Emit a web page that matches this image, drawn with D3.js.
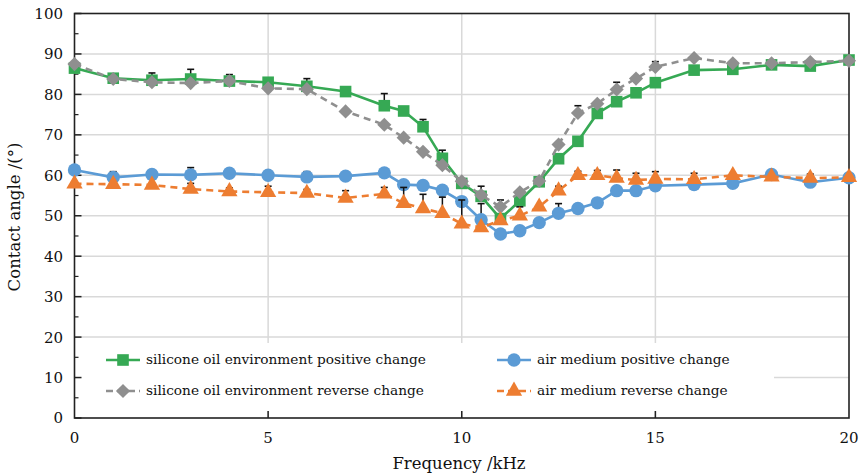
<!DOCTYPE html>
<html>
<head>
<meta charset="utf-8">
<script src="https://cdn.jsdelivr.net/npm/d3@7"></script>
<style>
  html, body { margin: 0; padding: 0; background: #fff; }
  svg { display: block; font-family: "DejaVu Serif", serif; }
</style>
</head>
<body>
<div id="chart"></div>
<script>
// Angle de contact en fonction de la fréquence, 4 séries avec barres d'erreur (haut)
const freq = [0, 1, 2, 3, 4, 5, 6, 7, 8, 8.5, 9, 9.5, 10, 10.5, 11, 11.5, 12, 12.5, 13, 13.5, 14, 14.5, 15, 16, 17, 18, 19, 20]

const oilPositive = [86.5, 84, 83.5, 83.8, 83.3, 83, 82, 80.7, 77.2, 75.9, 72, 64.2, 58, 54.8, 49.3, 53.7, 58.4, 64.1, 68.4, 75.3, 78.2, 80.4, 82.9, 86, 86.2, 87.3, 87, 88.5]
const oilReverse = [87.5, 83.8, 83, 82.8, 83.3, 81.5, 81.3, 75.8, 72.5, 69.3, 65.8, 62.5, 58.5, 55.1, 52.2, 55.8, 58.6, 67.6, 75.4, 77.7, 81.2, 83.9, 86.8, 89, 87.7, 87.7, 88, 88.3]
const airPositive = [61.3, 59.5, 60.2, 60.1, 60.5, 60, 59.6, 59.8, 60.6, 57.7, 57.5, 56.3, 53.5, 49, 45.5, 46.3, 48.3, 50.6, 51.8, 53.2, 56.2, 56.2, 57.4, 57.7, 58, 60.2, 58.3, 59.4]
const airReverse = [57.9, 57.8, 57.6, 56.6, 56, 55.8, 55.6, 54.4, 55.4, 53.1, 51.8, 50.6, 48, 47.1, 48.8, 50, 52.2, 56.2, 60, 60, 59.3, 58.8, 59.1, 59, 60, 59.6, 59.3, 59.5]

const oilPositiveErr = [0, 0, 1.8, 2.4, 1.6, 1.1, 1.9, 0, 3, 0, 1.8, 2, 0, 2.5, 0, 0, 0, 0, 0, 0, 0, 0, 0, 0, 0, 0, 0, 0]
const oilReverseErr = [0, 0, 0, 0, 0, 0, 0, 0, 0, 0, 0, 0, 0, 0, 1.7, 0, 0, 0, 1.8, 0, 1.8, 0, 1.3, 0, 0, 0, 0, 0]
const airPositiveErr = [0, 1.4, 0, 1.8, 0, 0, 1.3, 0, 0, 0, 0, 0, 0, 4, 0, 0, 0, 2.4, 0, 0, 0, 0, 0, 0, 0, 0, 0, 0]
const airReverseErr = [0, 0, 0, 1.4, 0.9, 1.5, 0.9, 1.8, 1.6, 3.9, 3.5, 4, 5.9, 0, 0, 2.2, 0, 1.1, 1, 1.2, 2, 1.7, 1.8, 1.5, 0, 0, 1, 0]

const seriesNames = [
  "silicone oil environment positive change",
  "silicone oil environment reverse change",
  "air medium positive change",
  "air medium reverse change",
]

const xTicks = [0, 5, 10, 15, 20]
const yTicks = [0, 10, 20, 30, 40, 50, 60, 70, 80, 90, 100]

const series = [
  { name: seriesNames[0], values: oilPositive, err: oilPositiveErr, color: "#36a954", dash: null, symbol: d3.symbolSquare, size: 135, rotate: 0 },
  { name: seriesNames[1], values: oilReverse, err: oilReverseErr, color: "#8f8f8f", dash: "7,5", symbol: d3.symbolSquare, size: 100, rotate: 45 },
  { name: seriesNames[2], values: airPositive, err: airPositiveErr, color: "#5b9bd5", dash: null, symbol: d3.symbolCircle, size: 140, rotate: 0 },
  { name: seriesNames[3], values: airReverse, err: airReverseErr, color: "#ed7d31", dash: "7,5", symbol: d3.symbolTriangle, size: 115, rotate: 0 },
]

const W = 863, H = 476
const plot = { left: 74.5, right: 849, top: 13.5, bottom: 418 }

const svg = d3.select("#chart").append("svg")
  .attr("width", W).attr("height", H)
  .attr("viewBox", `0 0 ${W} ${H}`)

const x = d3.scaleLinear().domain([0, 20]).range([plot.left, plot.right])
const y = d3.scaleLinear().domain([0, 100]).range([plot.bottom, plot.top])

// Grille
svg.append("g")
  .selectAll("line")
  .data(yTicks.filter((d) => d > 0 && d < 100))
  .join("line")
  .attr("x1", plot.left).attr("x2", plot.right)
  .attr("y1", (d) => y(d)).attr("y2", (d) => y(d))
  .attr("stroke", "#d9d9d9").attr("stroke-width", 1.5)

svg.append("g")
  .selectAll("line")
  .data(xTicks.filter((d) => d > 0 && d < 20))
  .join("line")
  .attr("x1", (d) => x(d)).attr("x2", (d) => x(d))
  .attr("y1", plot.top).attr("y2", plot.bottom)
  .attr("stroke", "#d9d9d9").attr("stroke-width", 1.5)

// Fond blanc de la légende (cache la grille)
svg.append("rect")
  .attr("x", plot.left + 1).attr("y", 343)
  .attr("width", 773 - plot.left).attr("height", 68)
  .attr("fill", "#fff")

// Cadre
svg.append("rect")
  .attr("x", plot.left).attr("y", plot.top)
  .attr("width", plot.right - plot.left).attr("height", plot.bottom - plot.top)
  .attr("fill", "none").attr("stroke", "#222").attr("stroke-width", 1.6)

// Ticks internes
const yMinor = d3.range(5, 100, 10)
svg.append("g").selectAll("line")
  .data(yTicks)
  .join("line")
  .attr("x1", plot.left).attr("x2", plot.left + 7)
  .attr("y1", (d) => y(d)).attr("y2", (d) => y(d))
  .attr("stroke", "#222").attr("stroke-width", 1.5)
svg.append("g").selectAll("line")
  .data(yMinor)
  .join("line")
  .attr("x1", plot.left).attr("x2", plot.left + 4)
  .attr("y1", (d) => y(d)).attr("y2", (d) => y(d))
  .attr("stroke", "#222").attr("stroke-width", 1.2)
svg.append("g").selectAll("line")
  .data(xTicks.filter((d) => d > 0 && d < 20))
  .join("line")
  .attr("x1", (d) => x(d)).attr("x2", (d) => x(d))
  .attr("y1", plot.bottom).attr("y2", plot.bottom - 7)
  .attr("stroke", "#222").attr("stroke-width", 1.5)

// Labels des ticks
svg.append("g").selectAll("text")
  .data(yTicks)
  .join("text")
  .attr("x", 63).attr("y", (d) => y(d))
  .attr("dy", "0.36em")
  .attr("text-anchor", "end")
  .attr("font-size", 15)
  .attr("fill", "#111")
  .text((d) => d)

svg.append("g").selectAll("text")
  .data(xTicks)
  .join("text")
  .attr("x", (d) => x(d)).attr("y", 443)
  .attr("text-anchor", "middle")
  .attr("font-size", 15)
  .attr("fill", "#111")
  .text((d) => d)

// Titres d'axes
svg.append("text")
  .attr("x", 459).attr("y", 469)
  .attr("text-anchor", "middle")
  .attr("font-size", 16.5)
  .attr("fill", "#111")
  .text("Frequency /kHz")

svg.append("text")
  .attr("transform", "translate(20,217) rotate(-90)")
  .attr("text-anchor", "middle")
  .attr("font-size", 16.5)
  .attr("fill", "#111")
  .text("Contact angle /(°)")

// Séries
const line = d3.line().x((d) => x(d[0])).y((d) => y(d[1]))
const symbolPath = (s) => d3.symbol().type(s.symbol).size(s.size)()

series.forEach((s) => {
  const pts = freq.map((f, i) => [f, s.values[i], s.err[i]])
  const g = svg.append("g")

  g.append("path")
    .datum(pts)
    .attr("d", line)
    .attr("fill", "none")
    .attr("stroke", s.color).attr("stroke-width", 2.6)
    .attr("stroke-dasharray", s.dash)

  // Barres d'erreur (partie haute seulement visible)
  const eb = g.selectAll("g.err")
    .data(pts.filter((d) => d[2] > 0))
    .join("g")
    .attr("class", "err")
  eb.append("line")
    .attr("x1", (d) => x(d[0])).attr("x2", (d) => x(d[0]))
    .attr("y1", (d) => y(d[1])).attr("y2", (d) => y(d[1] + d[2]))
    .attr("stroke", "#111").attr("stroke-width", 1.5)
  eb.append("line")
    .attr("x1", (d) => x(d[0]) - 3.5).attr("x2", (d) => x(d[0]) + 3.5)
    .attr("y1", (d) => y(d[1] + d[2])).attr("y2", (d) => y(d[1] + d[2]))
    .attr("stroke", "#111").attr("stroke-width", 1.6)

  g.selectAll("path.mark")
    .data(pts)
    .join("path")
    .attr("class", "mark")
    .attr("d", symbolPath(s))
    .attr("transform", (d) => `translate(${x(d[0])},${y(d[1])}) rotate(${s.rotate})`)
    .attr("fill", s.color)
})

// Légende
const legendPos = [
  { x: 106, y: 360 },
  { x: 106, y: 391 },
  { x: 497, y: 360 },
  { x: 497, y: 391 },
]
series.forEach((s, i) => {
  const p = legendPos[i]
  const lg = svg.append("g").attr("transform", `translate(${p.x},${p.y})`)
  lg.append("line")
    .attr("x1", 0).attr("x2", 34)
    .attr("stroke", s.color).attr("stroke-width", 2.6)
    .attr("stroke-dasharray", s.dash ? "7,4" : null)
  lg.append("path")
    .attr("d", symbolPath(s))
    .attr("transform", `translate(17,0) rotate(${s.rotate})`)
    .attr("fill", s.color)
  lg.append("text")
    .attr("x", 40).attr("y", 0)
    .attr("dy", "0.32em")
    .attr("font-size", 13.7)
    .attr("fill", "#111")
    .text(s.name)
})
</script>
</body>
</html>
